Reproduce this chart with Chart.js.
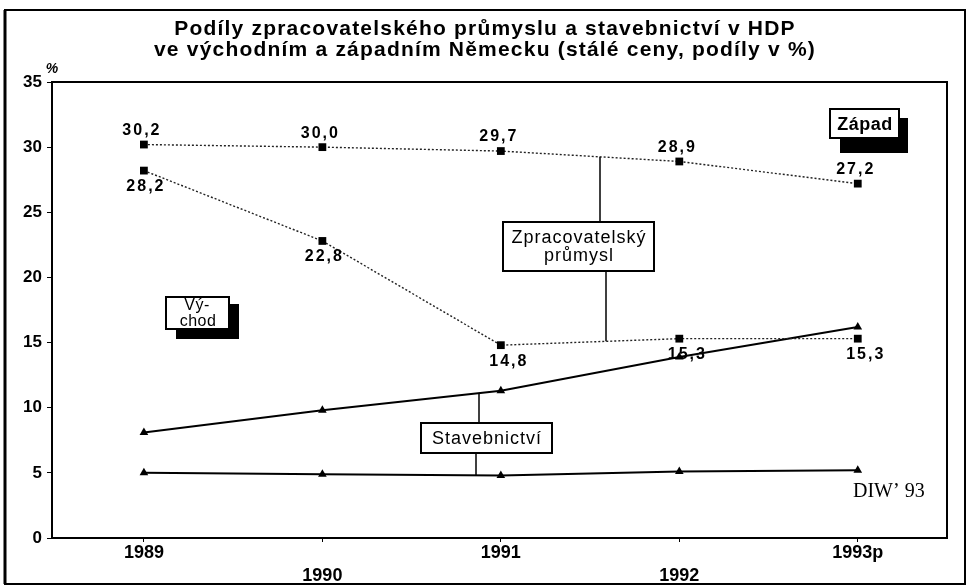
<!DOCTYPE html>
<html>
<head>
<meta charset="utf-8">
<script src="https://cdn.jsdelivr.net/npm/chart.js@4/dist/chart.umd.min.js"></script>
<style>
  body { margin: 0; background: #fff; }
  canvas { display: block; }
</style>
</head>
<body>
<canvas id="chart" width="971" height="586"></canvas>
<script>
// values
const years = [1989, 1990, 1991, 1992, 1993];
const yearLabels = ["1989", "1990", "1991", "1992", "1993p"];
const yTicks = [0, 5, 10, 15, 20, 25, 30, 35];

const zapadPrumysl = [30.2, 30.0, 29.7, 28.9, 27.2];
const vychodPrumysl = [28.2, 22.8, 14.8, 15.3, 15.3];
const vychodStavebnictvi = [8.1, 9.8, 11.3, 13.9, 16.2];
const zapadStavebnictvi = [5.0, 4.9, 4.8, 5.1, 5.2];

const titleLines = [
  "Podíly zpracovatelského průmyslu a stavebnictví v HDP",
  "ve východním a západním Německu (stálé ceny, podíly v %)"
];

const toPoints = values => years.map((x, i) => ({ x, y: values[i] }));
const fmt = v => v.toFixed(1).replace(".", ",");

const SANS = "'Liberation Sans', Arial, sans-serif";

const dotted = values => ({
  data: toPoints(values),
  borderColor: "#222",
  borderWidth: 1.4,
  borderDash: [2, 2],
  pointStyle: "rect",
  pointRadius: 5.5,
  pointBackgroundColor: "#000",
  pointBorderColor: "#000",
  pointBorderWidth: 0
});

const solid = values => ({
  data: toPoints(values),
  borderColor: "#000",
  borderWidth: 2,
  pointStyle: "triangle",
  pointRadius: 5,
  pointBackgroundColor: "#000",
  pointBorderColor: "#000",
  pointBorderWidth: 0
});

// y of a series at an arbitrary x (straight segments between points)
const valueAt = (values, x) => {
  const i = Math.max(0, Math.min(years.length - 2, Math.floor(x - years[0])));
  const t = (x - years[i]) / (years[i + 1] - years[i]);
  return values[i] + (values[i + 1] - values[i]) * t;
};

const textAt = (ctx, text, x, y, font, align = "center", spacing = "0px") => {
  ctx.font = font;
  ctx.letterSpacing = spacing;
  ctx.textAlign = align;
  ctx.textBaseline = "middle";
  ctx.fillStyle = "#000";
  ctx.fillText(text, x, y);
};

const box = (ctx, x, y, w, h, shadow) => {
  if (shadow) {
    ctx.fillStyle = "#000";
    ctx.fillRect(shadow.x, shadow.y, shadow.w, shadow.h);
  }
  ctx.fillStyle = "#fff";
  ctx.fillRect(x, y, w, h);
  ctx.strokeStyle = "#000";
  ctx.lineWidth = 2;
  ctx.strokeRect(x, y, w, h);
};

const connector = (ctx, xs, ys, px, fromY, values) => {
  const yy = ys.getPixelForValue(valueAt(values, xs.getValueForPixel(px)));
  ctx.beginPath();
  ctx.moveTo(px, fromY);
  ctx.lineTo(px, yy);
  ctx.strokeStyle = "#000";
  ctx.lineWidth = 1.5;
  ctx.stroke();
};

const decorations = {
  id: "decorations",
  afterDatasetsDraw(chart) {
    const { ctx, chartArea: a, scales: { x: xs, y: ys } } = chart;
    ctx.save();

    // outer frame
    ctx.strokeStyle = "#000";
    ctx.lineWidth = 2;
    ctx.strokeRect(5, 10, 960, 574);
    ctx.lineWidth = 3;
    ctx.beginPath();
    ctx.moveTo(5, 10);
    ctx.lineTo(5, 584);
    ctx.stroke();

    // top and right side of the plot frame
    ctx.lineWidth = 2;
    ctx.beginPath();
    ctx.moveTo(a.left, a.top);
    ctx.lineTo(a.right, a.top);
    ctx.lineTo(a.right, a.bottom);
    ctx.stroke();

    // title
    titleLines.forEach((line, i) =>
      textAt(ctx, line, 485, 29 + i * 21, "bold 21px " + SANS, "center", "1.2px")
    );
    textAt(ctx, "%", 52, 69, "bold italic 14px " + SANS);

    // value labels
    const labelFont = "bold 16px " + SANS;
    zapadPrumysl.forEach((v, i) => {
      const px = xs.getPixelForValue(years[i]);
      const py = ys.getPixelForValue(v);
      textAt(ctx, fmt(v), px - 2, py - 14, labelFont, "center", "2px");
    });
    vychodPrumysl.forEach((v, i) => {
      const px = xs.getPixelForValue(years[i]);
      const py = ys.getPixelForValue(v);
      textAt(ctx, fmt(v), px + (i > 1 ? 8 : 2), py + 16, labelFont, "center", "2px");
    });

    // callouts
    connector(ctx, xs, ys, 600, 222, zapadPrumysl);
    connector(ctx, xs, ys, 606, 271, vychodPrumysl);
    box(ctx, 503, 222, 151, 49);
    textAt(ctx, "Zpracovatelský", 579, 238, "18px " + SANS, "center", "1px");
    textAt(ctx, "průmysl", 579, 256, "18px " + SANS, "center", "1px");

    connector(ctx, xs, ys, 479, 423, vychodStavebnictvi);
    connector(ctx, xs, ys, 476, 453, zapadStavebnictvi);
    box(ctx, 421, 423, 131, 30);
    textAt(ctx, "Stavebnictví", 487, 439, "18px " + SANS, "center", "1px");

    box(ctx, 166, 297, 63, 32, { x: 176, y: 304, w: 63, h: 35 });
    textAt(ctx, "Vý-", 197, 306, "16px " + SANS, "center", "0.5px");
    textAt(ctx, "chod", 198, 322, "16px " + SANS, "center", "0.5px");

    box(ctx, 830, 109, 69, 29, { x: 840, y: 118, w: 68, h: 35 });
    textAt(ctx, "Západ", 865, 125, "bold 18px " + SANS, "center", "0.5px");

    textAt(ctx, "DIW’ 93", 853, 492, "20px 'Liberation Serif', 'Times New Roman', serif", "left");

    ctx.restore();
  }
};

new Chart("chart", {
  type: "line",
  data: {
    datasets: [
      dotted(zapadPrumysl),
      dotted(vychodPrumysl),
      solid(vychodStavebnictvi),
      solid(zapadStavebnictvi)
    ]
  },
  options: {
    responsive: false,
    animation: false,
    layout: { padding: { top: 82, right: 24, left: 0, bottom: 0 } },
    plugins: { legend: { display: false }, tooltip: { enabled: false } },
    scales: {
      x: {
        type: "linear",
        min: 1988.485,
        max: 1993.5,
        afterBuildTicks: s => { s.ticks = years.map(value => ({ value })); },
        afterFit: s => { s.height = 48; },
        ticks: {
          color: "#000",
          padding: 0,
          maxRotation: 0,
          autoSkip: false,
          font: { family: SANS, size: 18, weight: "bold", lineHeight: 1.25 },
          callback: (v, i) => (i % 2 ? ["", yearLabels[i]] : yearLabels[i])
        },
        grid: { drawOnChartArea: false, tickLength: 4, color: "#000" },
        border: { color: "#000", width: 2 }
      },
      y: {
        min: 0,
        max: 35,
        afterBuildTicks: s => { s.ticks = yTicks.map(value => ({ value })); },
        afterFit: s => { s.width = 52; },
        ticks: {
          color: "#000",
          padding: 5,
          font: { family: SANS, size: 17, weight: "bold" }
        },
        grid: { drawOnChartArea: false, tickLength: 5, color: "#000" },
        border: { color: "#000", width: 2 }
      }
    }
  },
  plugins: [decorations]
});
</script>
</body>
</html>
